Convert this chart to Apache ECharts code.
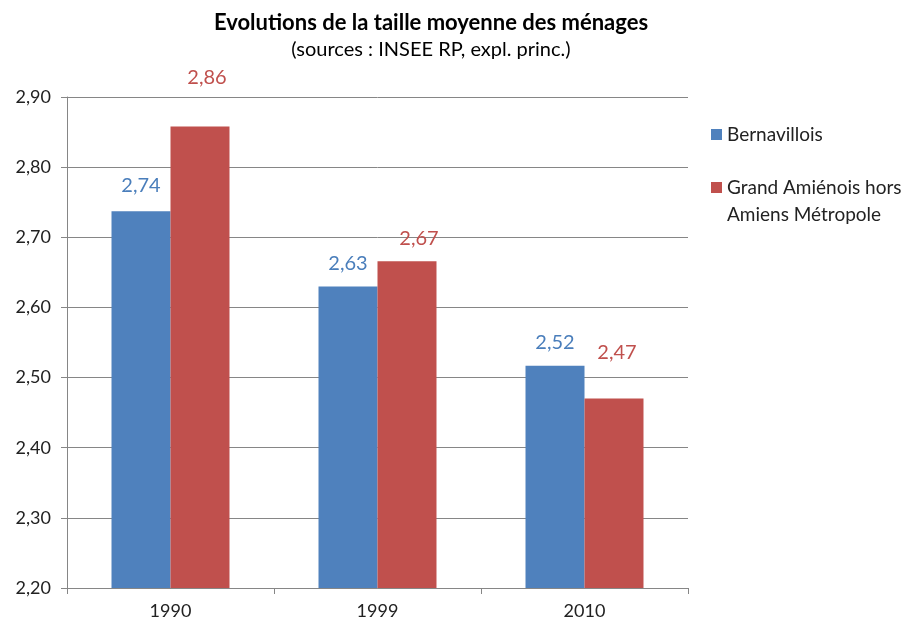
<!DOCTYPE html>
<html>
<head>
<meta charset="utf-8">
<script src="https://cdn.jsdelivr.net/npm/echarts@6/dist/echarts.min.js"></script>
<style>
  html, body { margin: 0; padding: 0; background: #fff; }
  #chart { width: 911px; height: 625px; }
</style>
</head>
<body>
<div id="chart"></div>
<script>
// données
var years = ['1990', '1999', '2010'];
var bernavillois = [2.737, 2.630, 2.517];
var grandAmienois = [2.858, 2.666, 2.470];
var seriesNames = ['Bernavillois', 'Grand Amiénois hors\nAmiens Métropole'];
var yTicks = [2.2, 2.3, 2.4, 2.5, 2.6, 2.7, 2.8, 2.9];

var FONT = 'Lato, "Open Sans", sans-serif';
var BLUE = '#4F81BD';
var RED = '#C0504D';

function fr(v) {
    return v.toFixed(2).replace('.', ',');
}

// étiquettes placées à la main comme dans le graphique d'origine
var blueLabelDist = [16, 13, 13];
var redLabelDist = [39, 13, 36];
var redLabelShift = [7, 12, 3];

function buildData(values, dist, shift) {
    return values.map(function (v, i) {
        return {
            value: v,
            label: {
                distance: dist[i],
                offset: [shift ? shift[i] : 0, 0]
            }
        };
    });
}

var chart = echarts.init(document.getElementById('chart'));
chart.setOption({
    animation: false,
    textStyle: { fontFamily: FONT },
    title: [
        {
            text: 'Evolutions de la taille moyenne des ménages',
            left: 426, top: 7, textAlign: 'center',
            textStyle: { fontFamily: FONT, fontWeight: 'bold', fontSize: 22, color: '#000' }
        },
        {
            text: '(sources : INSEE RP, expl. princ.)',
            left: 426, top: 35, textAlign: 'center',
            textStyle: { fontFamily: FONT, fontWeight: 'normal', fontSize: 20, color: '#000' }
        }
    ],
    legend: {
        orient: 'vertical',
        left: 706, top: 116,
        itemWidth: 11, itemHeight: 11,
        itemGap: -1,
        icon: 'rect',
        formatter: function (name) {
            // icône alignée sur la première ligne
            return name.indexOf('\n') >= 0 ? '\n' + name : name;
        },
        textStyle: { fontFamily: FONT, fontSize: 19, color: '#222', lineHeight: 27 },
        data: seriesNames
    },
    grid: { left: 67, right: 223, top: 97, bottom: 37 },
    xAxis: {
        type: 'category',
        data: years,
        axisLine: { lineStyle: { color: '#868686' } },
        axisTick: { show: true, length: 6, lineStyle: { color: '#868686' } },
        axisLabel: { fontFamily: FONT, fontSize: 18, color: '#222', margin: 14 }
    },
    yAxis: {
        type: 'value',
        min: yTicks[0], max: yTicks[yTicks.length - 1], interval: 0.1,
        axisLine: { show: true, lineStyle: { color: '#868686' } },
        axisTick: { show: true, length: 6, lineStyle: { color: '#868686' } },
        splitLine: { lineStyle: { color: '#868686' } },
        axisLabel: {
            fontFamily: FONT, fontSize: 18, color: '#222', margin: 16,
            formatter: function (v) { return fr(v); }
        }
    },
    series: [
        {
            name: seriesNames[0],
            type: 'bar',
            barGap: '0%',
            barCategoryGap: '43%',
            itemStyle: { color: BLUE },
            label: {
                show: true, position: 'top', color: '#4A7EBB',
                fontFamily: FONT, fontSize: 20,
                formatter: function (p) { return fr(p.value); }
            },
            data: buildData(bernavillois, blueLabelDist)
        },
        {
            name: seriesNames[1],
            type: 'bar',
            itemStyle: { color: RED },
            label: {
                show: true, position: 'top', color: RED,
                fontFamily: FONT, fontSize: 20,
                formatter: function (p) { return fr(p.value); }
            },
            data: buildData(grandAmienois, redLabelDist, redLabelShift)
        }
    ]
});
</script>
</body>
</html>
